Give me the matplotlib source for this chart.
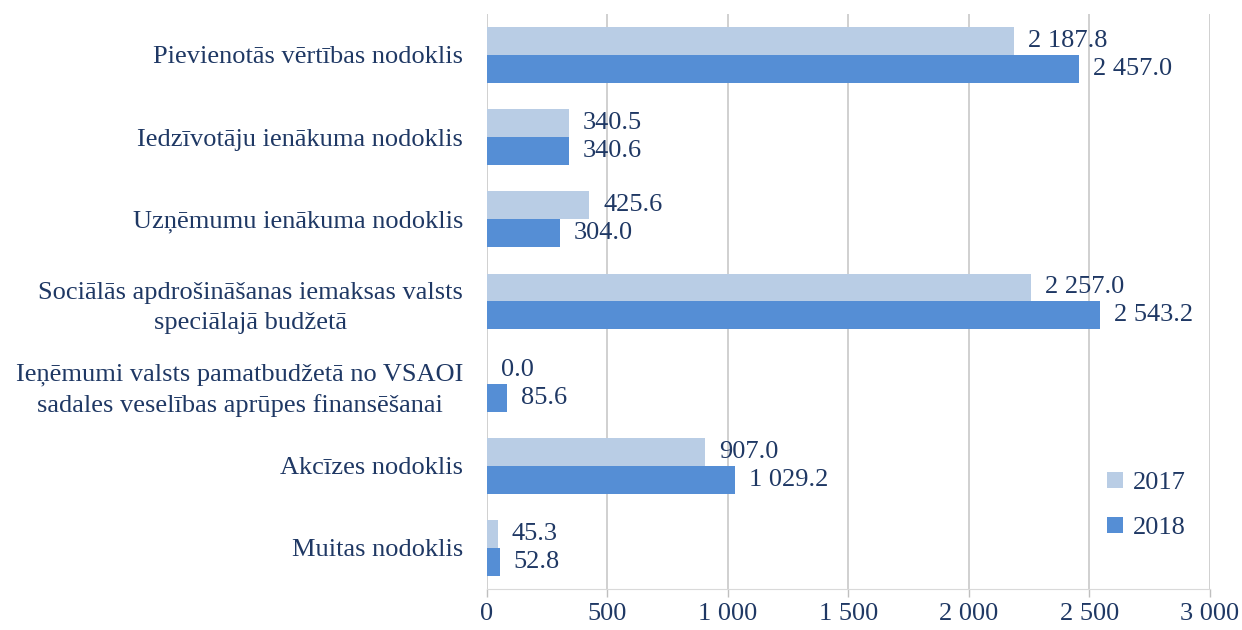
import numpy as np
import matplotlib.pyplot as plt

plt.rcParams["font.family"] = ["Liberation Serif", "DejaVu Serif"]

categories = [
    "Pievienotās vērtības nodoklis",
    "Iedzīvotāju ienākuma nodoklis",
    "Uzņēmumu ienākuma nodoklis",
    "Sociālās apdrošināšanas iemaksas valsts\nspeciālajā budžetā",
    "Ieņēmumi valsts pamatbudžetā no VSAOI\nsadales veselības aprūpes finansēšanai",
    "Akcīzes nodoklis",
    "Muitas nodoklis",
]
values_2017 = [2187.8, 340.5, 425.6, 2257.0, 0.0, 907.0, 45.3]
values_2018 = [2457.0, 340.6, 304.0, 2543.2, 85.6, 1029.2, 52.8]
years = ["2017", "2018"]

text_color = "#1F3864"
c17 = "#B9CDE5"
c18 = "#558ED5"
fs = 19


def fmt(v):
    return f"{v:,.1f}".replace(",", " ")


fig = plt.figure(figsize=(12.42, 6.3), dpi=100)
ax = fig.add_axes([0.392, 0.065, 0.582, 0.913])

y = np.arange(len(categories))
h = 0.34

b17 = ax.barh(y - h / 2, values_2017, height=h, color=c17, label=years[0], zorder=2)
b18 = ax.barh(y + h / 2, values_2018, height=h, color=c18, label=years[1], zorder=2)

for bars, vals in [(b17, values_2017), (b18, values_2018)]:
    for bar, v in zip(bars, vals):
        ax.annotate(fmt(v), (bar.get_width(), bar.get_y() + bar.get_height() / 2),
                    xytext=(10, 0), textcoords="offset points",
                    va="center", ha="left", fontsize=fs, color=text_color)

ax.set_ylim(len(categories) - 0.5, -0.5)
ax.set_xlim(0, 3000)
ax.set_xticks(np.arange(0, 3001, 500))
ax.set_xticklabels([f"{t:,}".replace(",", " ") for t in range(0, 3001, 500)])
ax.set_yticks(y)
ax.set_yticklabels(categories)
for lab in ax.get_yticklabels():
    lab.set_multialignment("center")
    lab.set_linespacing(1.45)

ax.tick_params(axis="y", length=0, pad=17, labelsize=fs, labelcolor=text_color)
ax.tick_params(axis="x", length=6, width=1, color="#BFBFBF", pad=4,
               labelsize=fs, labelcolor=text_color)

ax.grid(axis="x", color="#C8C8C8", linewidth=1.2, zorder=0)
for s in ["top", "right", "left"]:
    ax.spines[s].set_visible(False)
ax.spines["bottom"].set_color("#D9D9D9")

ax.legend(loc="lower right", bbox_to_anchor=(1.0, 0.045), frameon=False,
          fontsize=fs, labelcolor=text_color, handlelength=0.6, handleheight=0.6,
          labelspacing=0.85, handletextpad=0.4)

fig.savefig("out.png", dpi=100)
